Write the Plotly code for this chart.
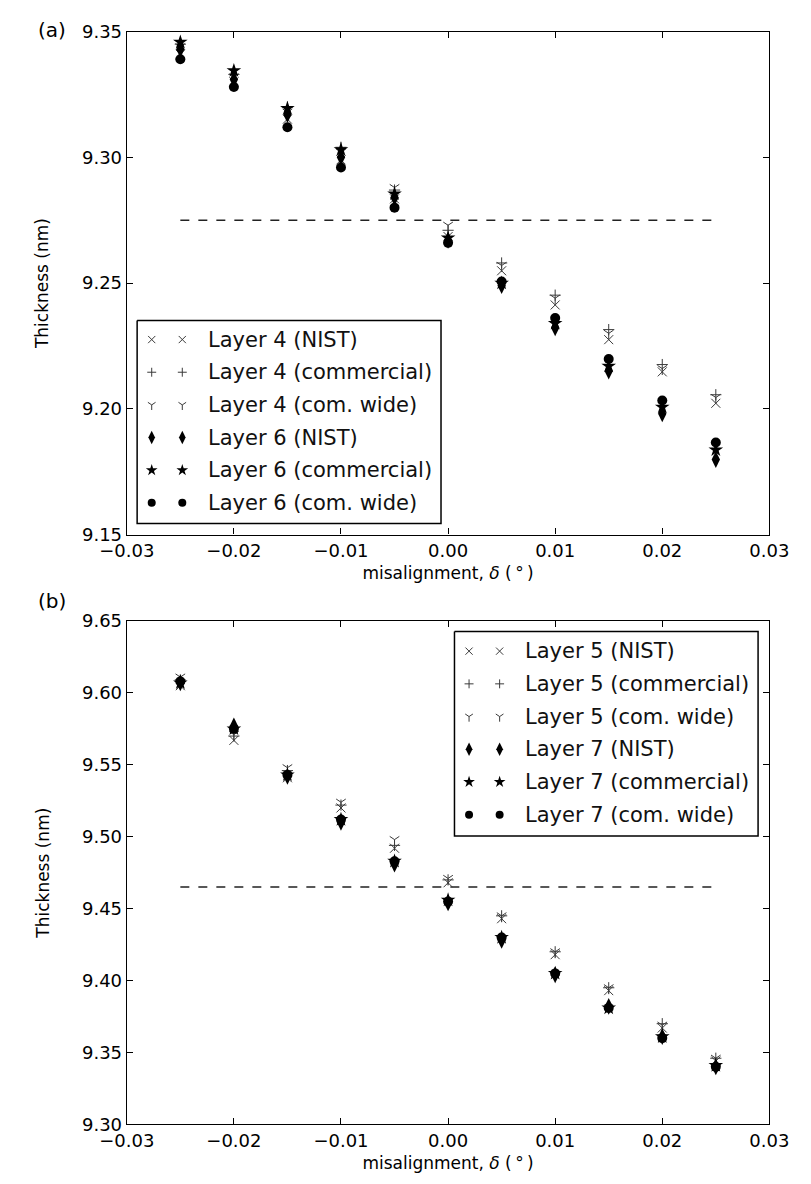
import plotly.graph_objects as go

# ---------------- data ----------------
delta = [-0.025, -0.02, -0.015, -0.01, -0.005, 0.0, 0.005, 0.01, 0.015, 0.02, 0.025]

# panel (a)
l4_nist = [9.341, 9.330, 9.3152, 9.299, 9.2835, 9.2685, 9.2549, 9.2413, 9.2275, 9.2147, 9.2022]
l4_comm = [9.345, 9.333, 9.320, 9.304, 9.287, 9.271, 9.258, 9.2452, 9.2315, 9.2176, 9.2056]
l4_wide = [9.344, 9.332, 9.318, 9.302, 9.288, 9.273, 9.257, 9.244, 9.230, 9.216, 9.2045]
l6_nist = [9.343, 9.331, 9.317, 9.300, 9.284, 9.267, 9.249, 9.2322, 9.215, 9.198, 9.1798]
l6_comm = [9.3458, 9.3345, 9.3195, 9.3031, 9.2855, 9.268, 9.250, 9.234, 9.217, 9.2007, 9.1837]
l6_wide = [9.339, 9.328, 9.312, 9.296, 9.280, 9.266, 9.2506, 9.2361, 9.2198, 9.2033, 9.1866]
ref_a = 9.275

# panel (b)
l5_nist = [9.605, 9.567, 9.541, 9.520, 9.492, 9.468, 9.443, 9.418, 9.393, 9.367, 9.344]
l5_comm = [9.609, 9.570, 9.546, 9.522, 9.494, 9.470, 9.445, 9.420, 9.395, 9.370, 9.346]
l5_wide = [9.611, 9.571, 9.548, 9.524, 9.498, 9.471, 9.445, 9.420, 9.395, 9.369, 9.346]
l7_nist = [9.607, 9.577, 9.542, 9.510, 9.481, 9.454, 9.428, 9.404, 9.382, 9.361, 9.340]
l7_comm = [9.607, 9.575, 9.543, 9.512, 9.483, 9.456, 9.430, 9.405, 9.381, 9.361, 9.341]
l7_wide = [9.608, 9.575, 9.543, 9.512, 9.483, 9.455, 9.430, 9.405, 9.381, 9.360, 9.340]
ref_b = 9.465

names_a = ["Layer 4 (NIST)", "Layer 4 (commercial)", "Layer 4 (com. wide)",
           "Layer 6 (NIST)", "Layer 6 (commercial)", "Layer 6 (com. wide)"]
names_b = ["Layer 5 (NIST)", "Layer 5 (commercial)", "Layer 5 (com. wide)",
           "Layer 7 (NIST)", "Layer 7 (commercial)", "Layer 7 (com. wide)"]
series_a = [l4_nist, l4_comm, l4_wide, l6_nist, l6_comm, l6_wide]
series_b = [l5_nist, l5_comm, l5_wide, l7_nist, l7_comm, l7_wide]

x_ticks = [-0.03, -0.02, -0.01, 0.0, 0.01, 0.02, 0.03]

# ---------------- styles ----------------
W, H = 811, 1184
FONT = "DejaVu Sans"
THIN = "#3a3a3a"

def make_styles(scale):
    return [
        dict(symbol="x-thin", size=9 * scale, color=THIN, line=dict(width=1, color=THIN)),
        dict(symbol="cross-thin", size=8 * scale, color=THIN, line=dict(width=1, color=THIN)),
        dict(symbol="y-down", size=8 * scale, color=THIN, line=dict(width=1, color=THIN)),
        dict(symbol="diamond-tall", size=12 * scale, color="black", line=dict(width=0)),
        dict(symbol="star", size=11 * scale, color="black", line=dict(width=0)),
        dict(symbol="circle", size=10 * scale, color="black", line=dict(width=0)),
    ]

styles = make_styles(1.0)
leg_styles = make_styles(0.8)

px_left, px_right = 105, 788
a_top, a_bot = 21, 533
b_top, b_bot = 621, 1133.5

fig = go.Figure()

def add_panel(xa, ya, series, ref):
    fig.add_trace(go.Scatter(x=[delta[0], delta[-1]], y=[ref, ref], mode="lines",
                             line=dict(color="#222", width=1.5, dash="9px,9px"),
                             xaxis=xa, yaxis=ya, showlegend=False, hoverinfo="skip"))
    for s, st in zip(series, styles):
        fig.add_trace(go.Scatter(x=delta, y=s, mode="markers", marker=st,
                                 xaxis=xa, yaxis=ya, showlegend=False, cliponaxis=False))

add_panel("x", "y", series_a, ref_a)
add_panel("x2", "y2", series_b, ref_b)

# custom legends (pixel-coordinate overlay axes)
def add_legend(xl, yl, box, rows, names):
    x0, y0, x1, y1 = box
    fig.add_trace(go.Scatter(x=[x0, x1, x1, x0, x0], y=[y0, y0, y1, y1, y0], mode="lines",
                             fill="toself", fillcolor="white", line=dict(color="black", width=1.5),
                             xaxis=xl, yaxis=yl, showlegend=False, hoverinfo="skip"))
    for r, st, nm in zip(rows, leg_styles, names):
        fig.add_trace(go.Scatter(x=[x0 + 15.5, x0 + 48], y=[r, r], mode="markers", marker=st,
                                 xaxis=xl, yaxis=yl, showlegend=False, hoverinfo="skip"))
        fig.add_annotation(x=x0 + 73, y=r, xref=xl, yref=yl, text=nm, showarrow=False,
                           xanchor="left", yanchor="middle",
                           font=dict(family=FONT, size=21, color="#111"))

rows_a = [334.5 + i * 33.25 for i in range(6)]
rows_b = [651.7 + i * 33.3 for i in range(6)]
add_legend("x3", "y3", (116, 315, 439, 521.7), rows_a, names_a)
add_legend("x4", "y4", (453.3, 631.7, 776, 840), rows_b, names_b)

def xdom():
    return [px_left / W, px_right / W]

def ydom(top, bot):
    return [1 - bot / H, 1 - top / H]

axis_common = dict(showline=True, linecolor="black", linewidth=1.3, mirror="ticks",
                   ticks="inside", ticklen=6, tickwidth=1, tickcolor="black",
                   showgrid=False, zeroline=False,
                   tickfont=dict(family=FONT, size=18, color="black"))

xtitle = dict(text="misalignment, <i>δ</i> (\u2009°\u2009)",
              font=dict(family=FONT, size=17, color="black"), standoff=6)
ytitle = dict(text="Thickness (nm)", font=dict(family=FONT, size=17, color="black"), standoff=28)

fig.update_layout(
    width=W, height=H, margin=dict(l=0, r=0, t=0, b=0),
    paper_bgcolor="white", plot_bgcolor="white", showlegend=False,
    font=dict(family=FONT),
    xaxis=dict(domain=xdom(), anchor="y", range=[-0.03, 0.03], tickvals=x_ticks,
               tickformat=".2f", title=xtitle, **axis_common),
    yaxis=dict(domain=ydom(a_top, a_bot), anchor="x", range=[9.15, 9.35], dtick=0.05,
               tickformat=".2f", title=ytitle, **axis_common),
    xaxis2=dict(domain=xdom(), anchor="y2", range=[-0.03, 0.03], tickvals=x_ticks,
                tickformat=".2f", title=xtitle, **axis_common),
    yaxis2=dict(domain=ydom(b_top, b_bot), anchor="x2", range=[9.30, 9.65], dtick=0.05,
                tickformat=".2f", title=ytitle, **axis_common),
    xaxis3=dict(overlaying="x", anchor="y3", range=[px_left, px_right], visible=False),
    yaxis3=dict(overlaying="y", anchor="x3", range=[a_bot, a_top], visible=False),
    xaxis4=dict(overlaying="x2", anchor="y4", range=[px_left, px_right], visible=False),
    yaxis4=dict(overlaying="y2", anchor="x4", range=[b_bot, b_top], visible=False),
)

fig.add_annotation(x=8 / W, y=1 - 19 / H, xref="paper", yref="paper", text="(a)",
                   showarrow=False, xanchor="left", yanchor="middle",
                   font=dict(family=FONT, size=20, color="black"))
fig.add_annotation(x=8 / W, y=1 - 601 / H, xref="paper", yref="paper", text="(b)",
                   showarrow=False, xanchor="left", yanchor="middle",
                   font=dict(family=FONT, size=20, color="black"))

fig.write_html("out.html")
